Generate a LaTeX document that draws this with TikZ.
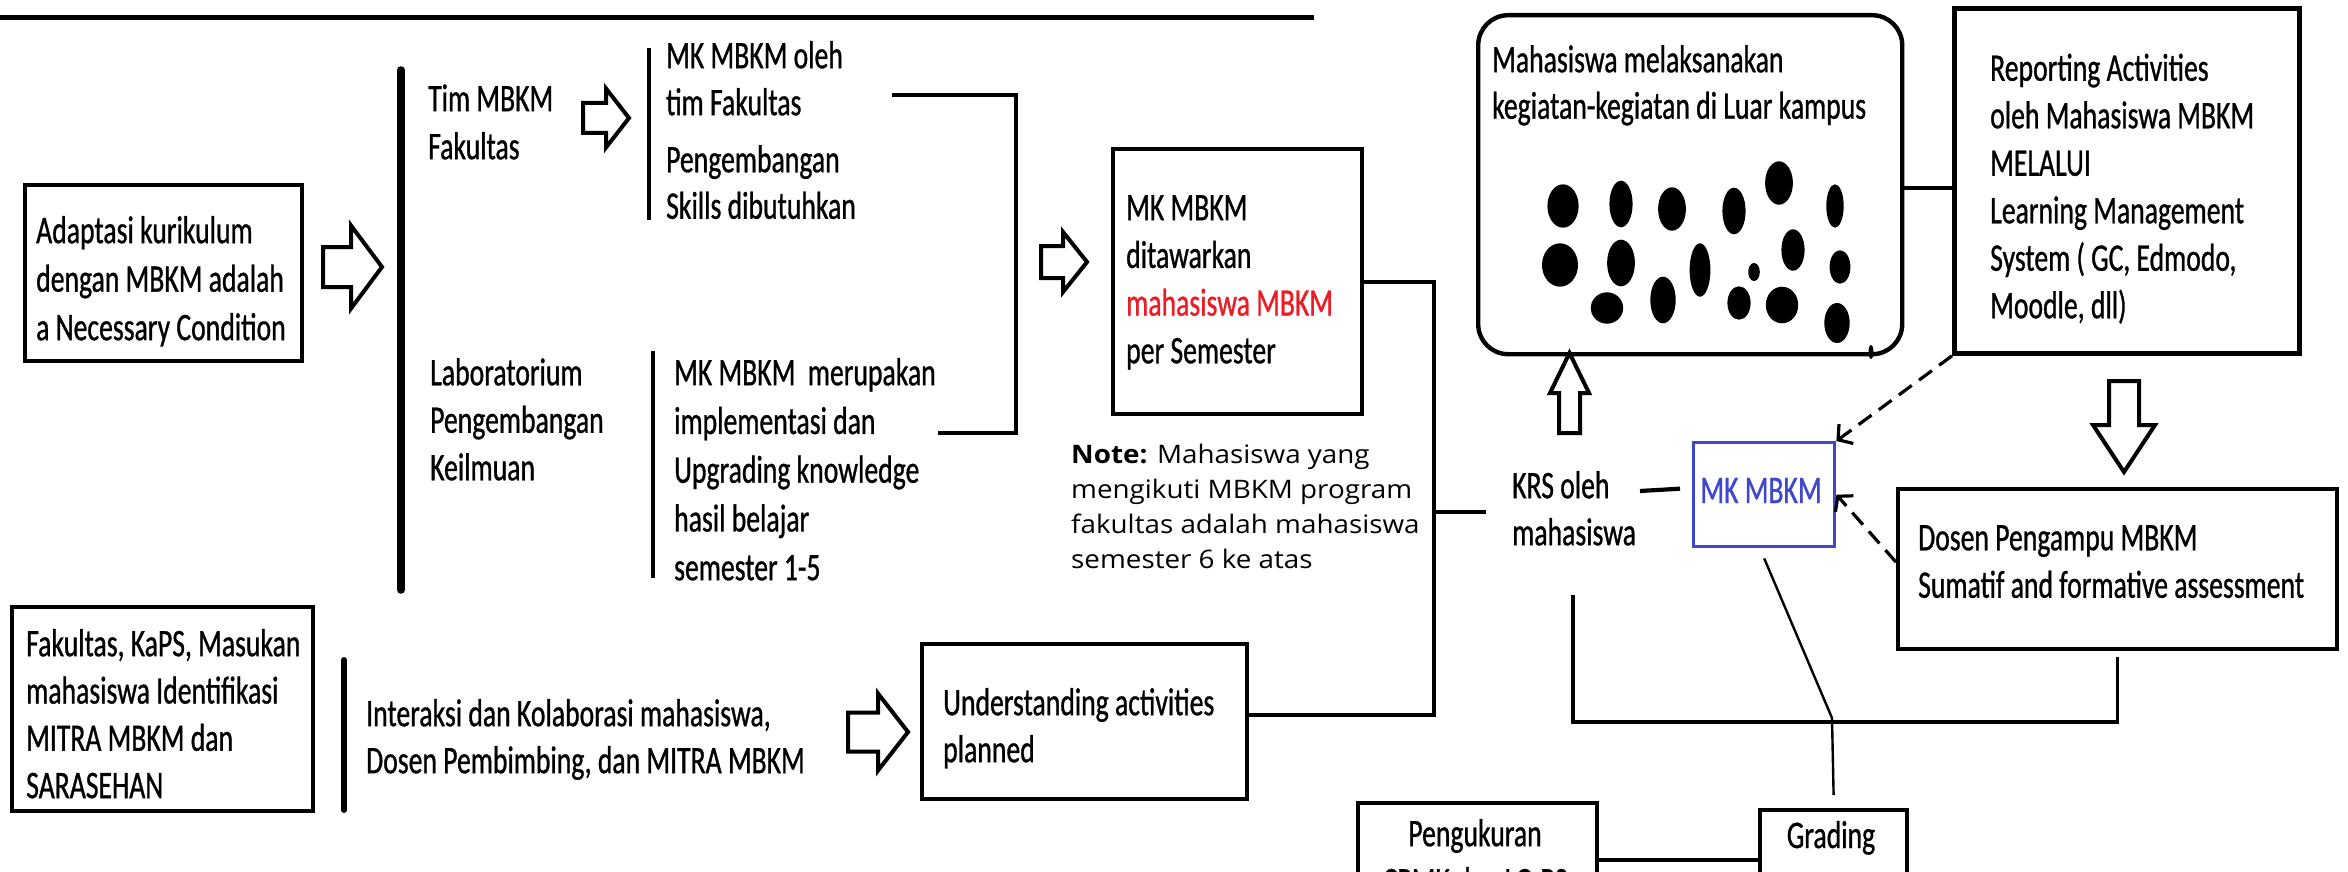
\documentclass[tikz,border=0pt]{standalone}
\usepackage{fontspec}
\setmainfont{Carlito}[FakeStretch=0.71,FakeBold=0.8]
\newfontfamily\notefont{Open Sans}[FakeStretch=1.09]
\usetikzlibrary{arrows.meta}
\definecolor{mkred}{HTML}{ED1C24}
\definecolor{mkblue}{HTML}{3F48CC}
\newcommand\mainfs[1]{\fontsize{39}{#1}\selectfont}
\newcommand\harrowR[6]{\draw[harrow] (#1,#4-#5) -- (#2,#4-#5) -- (#2,#4-#6) -- (#3,#4) -- (#2,#4+#6) -- (#2,#4+#5) -- (#1,#4+#5) -- cycle;}
\begin{document}
\begin{tikzpicture}[x=1pt,y=-1pt,
  box/.style={draw, line width=4.2pt, inner sep=0pt, anchor=north west},
  txt/.style={inner sep=0pt, anchor=north west, align=left},
  conn/.style={line width=4.2pt},
  thinconn/.style={line width=2.4pt},
  dashconn/.style={line width=3.2pt, dash pattern=on 16pt off 9pt, -{Straight Barb[length=10pt,width=24pt]}},
  harrow/.style={draw, fill=white, line width=4pt, line join=miter}
]
\useasboundingbox[fill=white] (0,0) rectangle (2348,872);

% top rule
\draw[line width=5pt] (0,18) -- (1314,18);

% boxes
\node[box, minimum width=277pt, minimum height=176pt] (adapt) at (23,183) {};
\node[box, minimum width=249pt, minimum height=265pt] (offer) at (1111,147) {};
\node[box, minimum width=301pt, minimum height=204pt] (fak) at (10,605) {};
\node[box, minimum width=325pt, minimum height=155pt] (under) at (920,642) {};
\node[box, line width=4.4pt, rounded corners=30pt, minimum width=424pt, minimum height=339pt] (luar) at (1476,13) {};
\node[box, line width=4.8pt, minimum width=345pt, minimum height=345pt] (rep) at (1952,6) {};
\node[box, draw=mkblue, line width=3.4pt, minimum width=141pt, minimum height=104pt] (mkb) at (1692,441) {};
\node[box, minimum width=439pt, minimum height=160pt] (dosen) at (1896,487) {};
\node[box, minimum width=239pt, minimum height=114pt] (ukur) at (1356,801) {};
\node[box, minimum width=147pt, minimum height=100pt] (grade) at (1758,808) {};

% texts
\node[txt, font=\mainfs{48.5}] (tadapt) at (36,209) {\strut Adaptasi kurikulum\\dengan MBKM adalah\\a Necessary Condition};
\node[txt, font=\mainfs{48}] (ttim) at (428,77.4) {\strut Tim MBKM\\Fakultas};
\node[txt, font=\mainfs{47}] (toleh) at (666,35.1) {\strut MK MBKM oleh\\tim Fakultas};
\node[txt, font=\mainfs{46.5}] (tskill) at (666,139.5) {\strut Pengembangan\\Skills dibutuhkan};
\node[txt, font=\mainfs{47.5}] (tlab) at (430,351.8) {\strut Laboratorium\\Pengembangan\\Keilmuan};
\node[txt, font=\mainfs{48.75}] (tmerup) at (674,350.9) {\strut MK MBKM~~merupakan\\implementasi dan\\Upgrading knowledge\\hasil belajar\\semester 1-5};
\node[txt, font=\mainfs{47.7}] (toffer) at (1126,186.6) {\strut MK MBKM\\ditawarkan\\\textcolor{mkred}{mahasiswa MBKM}\\per Semester};
\node[txt, font={\notefont\fontsize{25.5}{35}\selectfont}] (tnote) at (1071,438.5) {\strut\textbf{Note:} Mahasiswa yang\\mengikuti MBKM program\\fakultas adalah mahasiswa\\semester 6 ke atas};
\node[txt, font=\mainfs{47}] (krs) at (1512,465.1) {\strut KRS oleh\\mahasiswa};
\node[inner sep=0pt, anchor=base, font=\mainfs{48}, text=mkblue] (tmkb) at (1761,503) {MK MBKM};
\node[txt, font=\mainfs{46.5}] (tluar) at (1492,39.5) {\strut Mahasiswa melaksanakan\\kegiatan-kegiatan di Luar kampus};
\node[txt, font=\mainfs{47.5}] (trep) at (1990,47.3) {\strut Reporting Activities\\oleh Mahasiswa MBKM\\MELALUI\\Learning Management\\System ( GC, Edmodo,\\Moodle, dll)};
\node[txt, font=\mainfs{47.5}] (tdosen) at (1918,516.8) {\strut Dosen Pengampu MBKM\\Sumatif and formative assessment};
\node[txt, font=\mainfs{47.3}] (tfak) at (26,622.9) {\strut Fakultas, KaPS, Masukan\\mahasiswa Identifikasi\\MITRA MBKM dan\\SARASEHAN};
\node[txt, font=\mainfs{47}] (tinter) at (366,693.1) {\strut Interaksi dan Kolaborasi mahasiswa,\\Dosen Pembimbing, dan MITRA MBKM};
\node[txt, font=\mainfs{47}] (tunder) at (943,682.1) {\strut Understanding activities\\planned};
\node[inner sep=0pt, anchor=north, align=center, font=\mainfs{48}] (tukur) at (1475,812.4) {\strut Pengukuran\\CPMK dan LO PS};
\node[inner sep=0pt, anchor=base, font=\mainfs{48}] (tgrade) at (1831,848) {Grading};

% separator bars
\draw[line width=7.5pt, line cap=round] (401,70) -- (401,590);
\draw[line width=3.2pt] (649,48) -- (649,220);
\draw[line width=3.2pt] (653,351) -- (653,578);
\draw[line width=6pt, line cap=round] (344,660) -- (344,810);

% hollow arrows
\harrowR{323}{351}{382}{267}{20}{41.5}
\harrowR{583}{606}{629}{118}{15}{29.5}
\harrowR{1041}{1063}{1087}{262}{16}{30}
\harrowR{848}{878}{908}{732}{19.5}{38.5}
\draw[harrow] (1559,433) -- (1559,393) -- (1550,393) -- (1569.5,353) -- (1589,393) -- (1580,393) -- (1580,433) -- cycle;
\draw[harrow] (2109,381) -- (2109,425) -- (2093,425) -- (2124,472) -- (2155,425) -- (2139,425) -- (2139,381) -- cycle;

% dots
\foreach \cx/\cy/\rx/\ry in {1563/206/15.6/21.7, 1621/204/11.6/23.3, 1672/209/13.9/21.7, 1734/211/11.6/23.3, 1779/183/13.9/21.7, 1835/206/8.7/21.7, 1560/265/18/21.7, 1621/263/13.9/23.3, 1700/270/10.4/26.7, 1793/250/11.6/20.7, 1754/272/5.8/9, 1840/267/10.4/16.7, 1607/308/16.2/15.7, 1663/300/12.7/23.3, 1739/303/11.6/16.7, 1782/305/16.2/18.3, 1837/323/12.7/20}
  \fill (\cx,\cy) ellipse [x radius=\rx pt, y radius=\ry pt];
\fill (1871,352) ellipse [x radius=2.5pt, y radius=7pt];

% connectors
\coordinate (bkA) at (892,95);
\coordinate (bkB) at (938,433);
\draw[conn] (bkA) -- ++(124,0) |- (bkB);
\coordinate (busx) at (1434,0);
\draw[conn] (offer.east) -- (offer.east -| busx) -- ([yshift=7pt]under.east -| busx) -- ([yshift=7pt]under.east);
\coordinate (krsin) at (1486,512);
\draw[conn] (krsin -| busx) -- (krsin);
\coordinate (krsout) at (1640,491);
\draw[conn] (krsout) -- ([xshift=-12pt,yshift=6pt]mkb.west);
\draw[conn] (luar.east |- 0,188) -- (rep.west |- 0,188);
\draw[dashconn] (rep.south west) -- (mkb.north east);
\draw[dashconn] ([yshift=7pt]dosen.west) -- (mkb.east);
\coordinate (dj) at (1832,718);
\draw[thinconn] ([yshift=-10pt]mkb.south) -- (dj) -- ([yshift=13pt]grade.north);
\coordinate (kbL) at (1573,595);
\coordinate (kbY) at (0,722);
\draw[line width=3.4pt] (kbL) |- (kbY -| dosen.south) -- ([yshift=-6pt]dosen.south);
\draw[conn] (ukur.east) -- (grade.west);
\end{tikzpicture}
\end{document}
